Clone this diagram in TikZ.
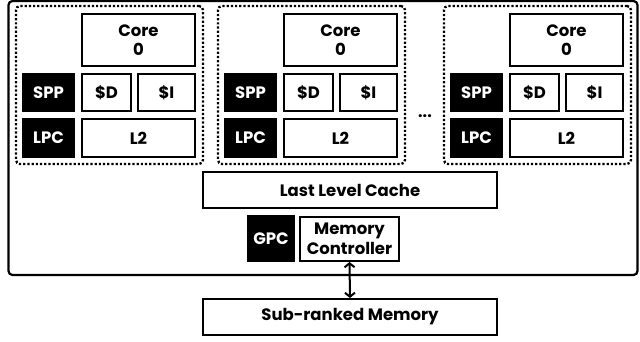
\documentclass[tikz,border=0pt]{standalone}
\usepackage{fontspec}
\setmainfont{Poppins}
\usetikzlibrary{arrows.meta}
\tikzset{
  box/.style={draw, line width=2pt, fill=white, inner sep=0pt, align=center,
    font=\fontsize{16.5}{19.5}\selectfont\bfseries},
  blk/.style={box, fill=black, text=white},
  cluster/.style={draw, line width=2.3pt, dash pattern=on 2.2pt off 2pt, rounded corners=4pt, inner sep=0pt},
  chip/.style={draw, line width=2.2pt, rounded corners=4pt},
}
\begin{document}
\begin{tikzpicture}[x=1pt,y=-1pt]
\useasboundingbox (0,0) rectangle (640,341);
\draw[chip] (8.5,1) rectangle (637.5,275);
\foreach \ox/\n in {0/a,202/b,428/c}{
  \node[cluster, minimum width=187pt, minimum height=158pt] (cl\n) at (109.5+\ox,85) {};
  \node[box, minimum width=113pt, minimum height=52pt] (core\n) at (138.5+\ox,40) {Core\\0};
  \node[blk, minimum width=51pt, minimum height=37pt] (spp\n) at (48.5+\ox,92.5) {SPP};
  \node[box, minimum width=49pt, minimum height=37pt] (d\n) at (106.5+\ox,92.5) {\$D};
  \node[box, minimum width=57pt, minimum height=37pt] (i\n) at (166.5+\ox,92.5) {\$I};
  \node[blk, minimum width=51pt, minimum height=38pt] (lpc\n) at (48.5+\ox,138) {LPC};
  \node[box, minimum width=113pt, minimum height=38pt] (l2\n) at (138.5+\ox,138) {L2};
}
\node[font=\fontsize{16}{16}\selectfont\bfseries, inner sep=0pt, anchor=base] (dots) at (425,117) {...};
\node[box, minimum width=294pt, minimum height=36pt] (llc) at (350,190) {Last Level Cache};
\node[blk, minimum width=46pt, minimum height=45pt] (gpc) at (271,238.5) {GPC};
\node[box, minimum width=99pt, minimum height=44pt] (mc) at (349.5,239) {Memory\\Controller};
\node[box, minimum width=294pt, minimum height=36pt] (mem) at (350,317) {Sub-ranked Memory};
\draw[line width=2pt, {Straight Barb[length=4pt,width=10pt]}-{Straight Barb[length=4pt,width=10pt]}] (mc.south) -- (mem.north);
\end{tikzpicture}
\end{document}
